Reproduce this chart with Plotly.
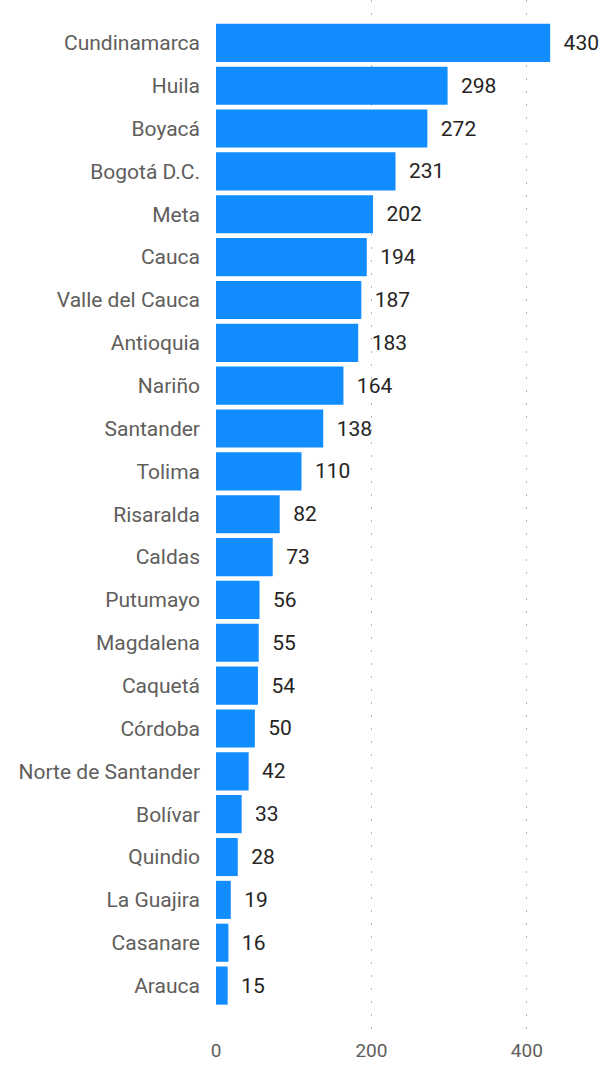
import plotly.graph_objects as go

departamentos = ["Cundinamarca", "Huila", "Boyacá", "Bogotá D.C.", "Meta", "Cauca",
                 "Valle del Cauca", "Antioquia", "Nariño", "Santander", "Tolima",
                 "Risaralda", "Caldas", "Putumayo", "Magdalena", "Caquetá", "Córdoba",
                 "Norte de Santander", "Bolívar", "Quindio", "La Guajira", "Casanare", "Arauca"]
valores = [430, 298, 272, 231, 202, 194, 187, 183, 164, 138, 110, 82, 73, 56, 55, 54,
           50, 42, 33, 28, 19, 16, 15]
x_ticks = [0, 200, 400]

fig = go.Figure(go.Bar(
    x=valores, y=departamentos, orientation="h",
    marker=dict(color="#118DFF", line=dict(width=0)),
    text=[f"  {v}" for v in valores], textposition="outside",
    textfont=dict(family="Roboto", size=21, color="#252423"),
    cliponaxis=False, width=0.89,
))

fig.update_layout(
    width=602, height=1069,
    margin=dict(l=216, r=13, t=0, b=32, autoexpand=False),
    paper_bgcolor="white", plot_bgcolor="white",
    showlegend=False,
    font=dict(family="Roboto", color="#605E5C"),
)
fig.update_xaxes(range=[0, 480], tickvals=x_ticks, showgrid=True,
                 gridcolor="#B8B6B4", griddash="1.5px,11.5px", gridwidth=1.3,
                 zeroline=False, showline=False, automargin=False,
                 tickfont=dict(size=19, color="#605E5C"))
fig.update_yaxes(categoryorder="array", categoryarray=departamentos,
                 range=[23.2, -1.0], showgrid=False, zeroline=False, showline=False,
                 ticklabelstandoff=15, automargin=False,
                 tickfont=dict(size=21, color="#605E5C"))

fig.write_html("out.html", config={"displayModeBar": False},
               post_script="document.body.style.margin='0';")
